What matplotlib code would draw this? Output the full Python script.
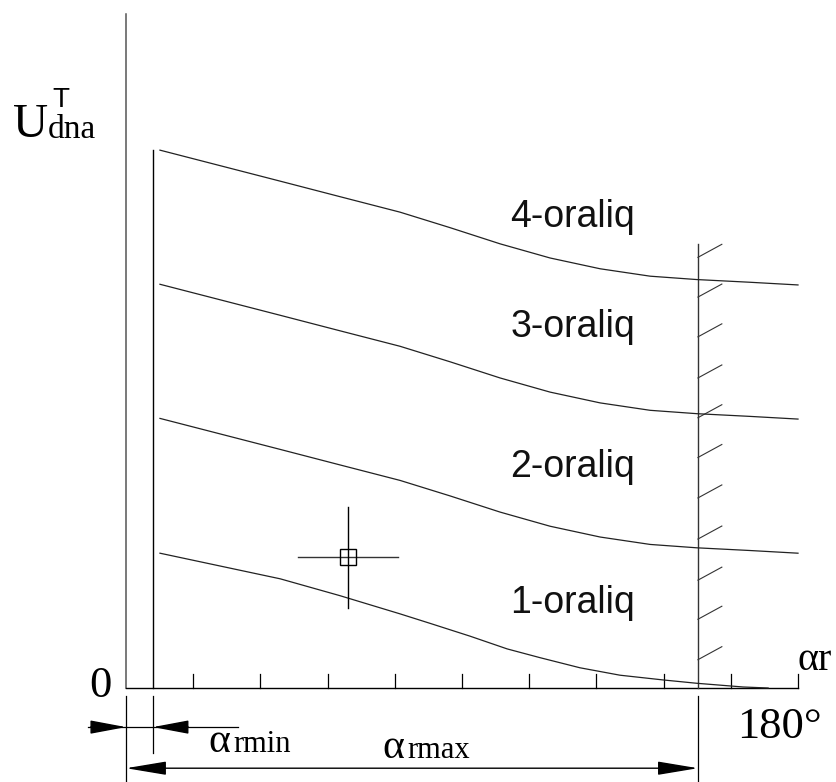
"""Voltage bands U_dna^T vs. firing angle alpha_r (schematic)."""

import matplotlib
matplotlib.use("Agg")
import matplotlib.pyplot as plt
from matplotlib import font_manager

# angle axis in degrees, vertical axis in relative units (axis top = 100)
ANGLE_END = 180
ALPHA_MIN = 7.2
ALPHA_MAX = 153.2
TICK_STEP = 18
U_TOP = 100

angle = [9.1, 25.2, 41.3, 57.3, 73.4, 86.8, 100.2, 113.6, 127.0, 140.4, 152.9, 167.1, 180.0]
u_band4 = [79.8, 77.5, 75.2, 72.9, 70.6, 68.3, 65.9, 63.8, 62.2, 61.1, 60.6, 60.2, 59.8]
u_band3 = [59.9, 57.6, 55.3, 53.0, 50.7, 48.4, 46.0, 43.9, 42.3, 41.2, 40.7, 40.3, 39.9]
u_band2 = [40.0, 37.7, 35.4, 33.1, 30.8, 28.5, 26.1, 24.0, 22.4, 21.3, 20.8, 20.4, 20.0]
angle_band1 = [9.1, 25.2, 41.3, 57.3, 73.4, 81.4, 92.1, 102.1, 110.9, 121.6, 132.3, 143.8, 152.9, 165.3, 172.0]
u_band1 = [20.0, 18.1, 16.2, 13.7, 11.0, 9.6, 7.7, 5.8, 4.5, 3.0, 1.9, 1.2, 0.7, 0.15, 0.0]

band_labels = ["1-oraliq", "2-oraliq", "3-oraliq", "4-oraliq"]
band_label_u = [11.1, 31.3, 52.1, 68.4]
band_label_angle = 102.9

hatch_levels = [4.2, 10.2, 16.0, 22.1, 28.2, 34.2, 40.1, 46.0, 52.1, 58.0, 63.9]
cursor_point = (59.5, 19.4)

SERIF = "Liberation Serif"
names = {f.name for f in font_manager.fontManager.ttflist}
NARROW = "Liberation Sans Narrow" if "Liberation Sans Narrow" in names else "Liberation Sans"

PX_PER_DEG = 672 / 180
PX_PER_U = 6.74


def arrow(ax, tip, tail, style="-|>", length=1.6):
    ax.annotate(
        "",
        xy=tip,
        xytext=tail,
        arrowprops=dict(
            arrowstyle=f"{style},head_length={length},head_width=0.3",
            mutation_scale=14,
            color="black",
            lw=1.0,
            shrinkA=0,
            shrinkB=0,
        ),
    )


fig = plt.figure(figsize=(8.37, 7.82), dpi=100)
ax = fig.add_axes([0, 0, 1, 1])
ax.set_xlim(-126 / PX_PER_DEG, 711 / PX_PER_DEG)
ax.set_ylim(-94 / PX_PER_U, 688 / PX_PER_U)
ax.axis("off")

# axes
ax.plot([0, 0], [0, U_TOP], color="#555555", lw=1.1)
ax.plot([0, ANGLE_END], [0, 0], color="black", lw=1.0)
for a in range(TICK_STEP, ANGLE_END + 1, TICK_STEP):
    ax.plot([a, a], [0, 2.1], color="black", lw=0.9)

# alpha_min and alpha_max boundaries
ax.plot([ALPHA_MIN, ALPHA_MIN], [0, u_band4[0]], color="black", lw=1.0)
ax.plot([ALPHA_MAX, ALPHA_MAX], [0, 65.9], color="#333333", lw=1.0)
for lv in hatch_levels:
    ax.plot([ALPHA_MAX, ALPHA_MAX + 6.4], [lv, lv + 1.93], color="#333333", lw=0.8)

# band boundary curves
ax.plot(angle, u_band4, color="#222222", lw=0.9)
ax.plot(angle, u_band3, color="#222222", lw=0.9)
ax.plot(angle, u_band2, color="#222222", lw=0.9)
ax.plot(angle_band1, u_band1, color="#222222", lw=0.9)

for label, uy in zip(band_labels, band_label_u):
    ax.text(band_label_angle, uy, label, fontsize=27, family="Liberation Sans",
            ha="left", va="baseline", color="#111111")

# cursor mark
cx, cy = cursor_point
ax.plot([cx - 13.4, cx + 13.4], [cy, cy], color="#333333", lw=1.0)
ax.plot([cx, cx], [cy - 7.5, cy + 7.5], color="black", lw=1.0)
ax.plot([cx], [cy], marker="s", ms=12, mfc="none", mec="black", mew=1.0)

# dimension lines below the axis
ax.plot([0, 0], [-1.2, -14], color="black", lw=0.9)
ax.plot([ALPHA_MIN, ALPHA_MIN], [-1.2, -9.6], color="black", lw=0.9)
ax.plot([ALPHA_MAX, ALPHA_MAX], [-1.2, -14], color="black", lw=0.9)

y_min_dim = -5.8
ax.plot([-10.2, 30.0], [y_min_dim, y_min_dim], color="black", lw=0.9)
arrow(ax, (0, y_min_dim), (-9.5, y_min_dim))
arrow(ax, (ALPHA_MIN, y_min_dim), (ALPHA_MIN + 9.5, y_min_dim))

y_max_dim = -11.9
arrow(ax, (ALPHA_MAX, y_max_dim), (0, y_max_dim), style="<|-|>", length=1.8)

# labels
ax.text(22.0, -9.5, "α", fontsize=30, family=SERIF, ha="left", va="baseline")
ax.text(28.7, -9.5, "rmin", fontsize=22, family=SERIF, ha="left", va="baseline")
ax.text(68.6, -10.4, "α", fontsize=30, family=SERIF, ha="left", va="baseline")
ax.text(75.3, -10.4, "rmax", fontsize=22, family=SERIF, ha="left", va="baseline")

ax.text(-6.9, -1.3, "0", fontsize=32, family=SERIF, ha="center", va="baseline")
ax.text(163.7, -7.4, "180°", fontsize=32, family=SERIF, ha="left", va="baseline")
ax.text(180.0, 2.7, "αr", fontsize=29, family=SERIF, ha="left", va="baseline")

ax.text(-30.3, 81.75, "U", fontsize=35, family=SERIF, ha="left", va="baseline")
ax.text(-19.6, 86.2, "T", fontsize=20, family=NARROW, ha="left", va="baseline")
ax.text(-20.9, 81.6, "dna", fontsize=24, family=SERIF, ha="left", va="baseline")

fig.savefig("out.png", dpi=100)
